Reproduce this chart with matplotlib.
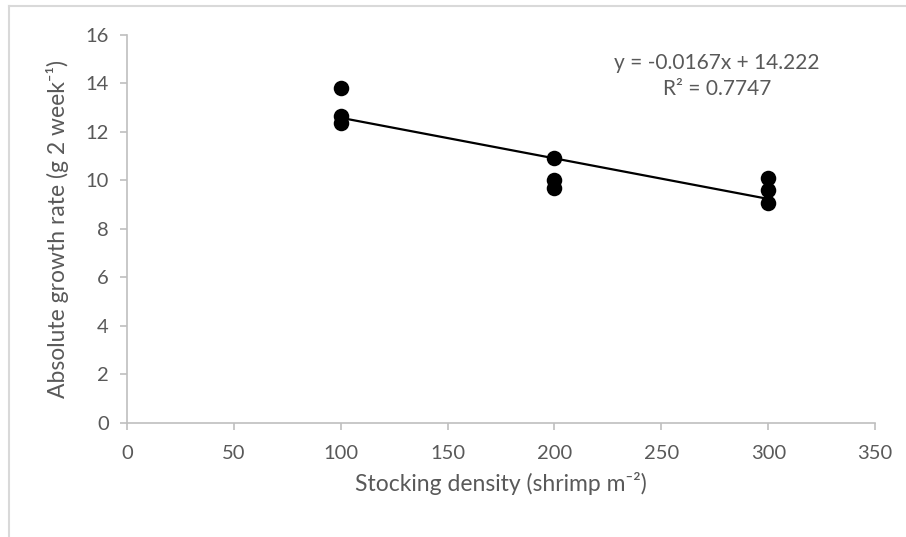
import numpy as np
import matplotlib
matplotlib.use("Agg")
import matplotlib.pyplot as plt
from matplotlib.lines import Line2D

# stocking density (shrimp m-2) and absolute growth rate, three replicates each
density = [100, 100, 100, 200, 200, 200, 300, 300, 300]
growth = [13.8, 12.65, 12.35, 10.9, 10.0, 9.7, 10.1, 9.6, 9.05]
eq_text = "y = -0.0167x + 14.222\nR\u00b2 = 0.7747"

GREY = "#595959"
AXIS = "#bfbfbf"

plt.rcParams["font.family"] = ["Lato", "DejaVu Sans"]

fig = plt.figure(figsize=(9.06, 5.37), dpi=100)
ax = fig.add_axes([0.140, 0.213, 0.826, 0.722])

x = np.array(density)
y = np.array(growth)
ax.scatter(x, y, s=125, color="black", zorder=3, linewidths=0)

# linear trendline over the data range
slope, icpt = np.polyfit(x, y, 1)
xs = np.array([x.min(), x.max()])
ax.plot(xs, slope * xs + icpt, color="black", linewidth=1.6, zorder=2)

ax.text(276, 14.3, eq_text, ha="center", va="center", fontsize=15,
        color=GREY, linespacing=1.35)

ax.set_xlim(0, 350)
ax.set_ylim(0, 16)
ax.set_xticks(range(0, 351, 50))
ax.set_yticks(range(0, 17, 2))
for s in ["top", "right"]:
    ax.spines[s].set_visible(False)
for s in ["left", "bottom"]:
    ax.spines[s].set_color(AXIS)
    ax.spines[s].set_linewidth(1.2)
ax.tick_params(colors=GREY, labelsize=14.5, length=5, width=1.2, color=AXIS,
               direction="out")
ax.tick_params(axis="x", pad=11)
ax.tick_params(axis="y", pad=8)

ax.set_xlabel("Stocking density (shrimp m\u207b\u00b2)", fontsize=16.5,
              color=GREY, labelpad=7)
ax.set_ylabel("Absolute growth rate (g 2 week\u207b\u00b9)", fontsize=16.5,
              color=GREY, labelpad=12)

# chart-area frame (only top and left edges visible in the crop)
fig.add_artist(Line2D([9 / 906, 1.0], [1 - 6 / 537] * 2, color="#d9d9d9",
                      linewidth=1.5, transform=fig.transFigure))
fig.add_artist(Line2D([9 / 906] * 2, [0, 1 - 6 / 537], color="#d9d9d9",
                      linewidth=1.5, transform=fig.transFigure))

fig.savefig("out.png", dpi=100)
